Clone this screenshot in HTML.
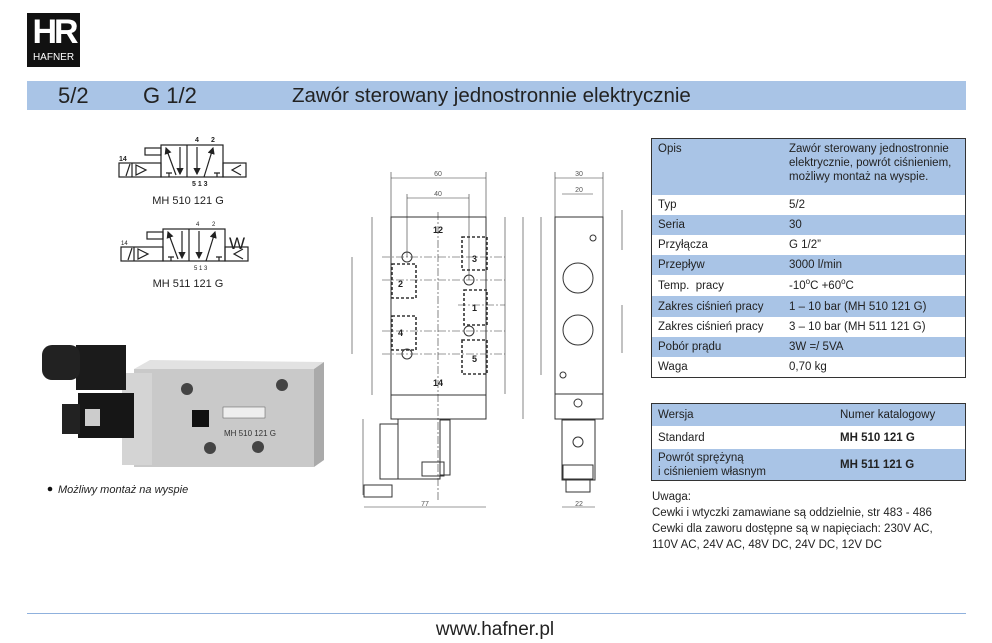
<!DOCTYPE html>
<html><head><meta charset="utf-8"><style>
body{margin:0;width:992px;height:643px;background:#fff;position:relative;overflow:hidden;font-family:"Liberation Sans","DejaVu Sans",sans-serif;color:#222}
.a{position:absolute}
table{border-collapse:collapse;font-size:11.5px;color:#222}
td{padding:0 0 0 6px;vertical-align:middle;line-height:14px}
.b{background:#a9c4e6}
sup{font-size:8px;line-height:0}
</style></head><body>
<div class="a" style="left:27px;top:13px;width:53px;height:54px;background:#111"></div>
<div class="a" style="left:29px;top:12px;width:50px;text-align:center;color:#fff;font-size:34px;font-weight:bold;letter-spacing:-3px;line-height:40px">HR</div>
<div class="a" style="left:27px;top:51px;width:53px;text-align:center;color:#fff;font-size:10px;line-height:14px">HAFNER</div>

<div class="a" style="left:27px;top:81px;width:939px;height:29px;background:#a9c4e6"></div>
<div class="a" style="left:58px;top:82px;font-size:22px;line-height:28px">5/2</div>
<div class="a" style="left:143px;top:82px;font-size:22px;line-height:28px">G 1/2</div>
<div class="a" style="left:292px;top:83px;font-size:20.5px;line-height:26px">Zawór sterowany jednostronnie elektrycznie</div>

<svg class="a" style="left:0;top:0" width="992" height="643">
<defs><marker id="ar" markerWidth="6" markerHeight="6" refX="5" refY="3" orient="auto"><path d="M0,0L6,3L0,6z" fill="#222"/></marker></defs>
<g id="sym" stroke="#222" fill="none" stroke-width="1.2">
<rect x="161" y="145" width="62" height="32"/><line x1="187" y1="145" x2="187" y2="177"/>
<rect x="119" y="163" width="42" height="14"/><line x1="132" y1="163" x2="132" y2="177"/><line x1="126" y1="176" x2="130" y2="164"/><path d="M136,165L146,170L136,175z"/>
<rect x="223" y="163" width="23" height="14"/><path d="M241,165L232,170L241,175"/>
<rect x="145" y="148" width="16" height="7"/>
<line x1="176" y1="175" x2="166" y2="148" marker-end="url(#ar)"/><line x1="180" y1="147" x2="180" y2="174" marker-end="url(#ar)"/>
<line x1="197" y1="147" x2="197" y2="174" marker-end="url(#ar)"/><line x1="204" y1="177" x2="213" y2="148" marker-end="url(#ar)"/>
<path d="M166,173h6M169,173v4M214,173h6M217,173v4"/>
</g>
<g font-size="7" font-weight="bold" fill="#222"><text x="195" y="142">4</text><text x="211" y="142">2</text><text x="119" y="161">14</text><text x="192" y="186">5 1 3</text></g>
<use href="#sym" transform="translate(2,84)"/>
<text x="229" y="249" font-size="17" fill="#222">W</text>
<g font-size="6" fill="#222"><text x="196" y="226">4</text><text x="212" y="226">2</text><text x="121" y="245">14</text><text x="194" y="270">5 1 3</text></g>
<text x="188" y="204" font-size="11" text-anchor="middle" fill="#222">MH 510 121 G</text>
<text x="188" y="287" font-size="11" text-anchor="middle" fill="#222">MH 511 121 G</text>

<!-- photo -->
<g>
<rect x="134" y="369" width="180" height="98" fill="#c9c9c9"/>
<path d="M134,369L150,360L324,362L314,369z" fill="#e2e2e2"/>
<path d="M314,369L324,362L324,460L314,467z" fill="#aaa"/>
<rect x="122" y="373" width="30" height="92" fill="#d4d4d4"/>
<rect x="76" y="345" width="50" height="45" fill="#1b1b1b"/>
<rect x="78" y="393" width="56" height="45" fill="#161616"/>
<rect x="42" y="345" width="38" height="35" rx="10" fill="#222"/>
<rect x="62" y="404" width="18" height="30" fill="#222"/>
<rect x="85" y="409" width="15" height="17" fill="#ccc"/>
<circle cx="187" cy="389" r="6" fill="#444"/><circle cx="282" cy="385" r="6" fill="#444"/>
<circle cx="210" cy="448" r="6" fill="#444"/><circle cx="258" cy="447" r="6" fill="#444"/>
<rect x="192" y="410" width="17" height="17" fill="#111"/>
<rect x="223" y="407" width="42" height="11" fill="#eee" stroke="#555" stroke-width=".5"/>
<text x="224" y="436" font-size="8" fill="#333">MH 510 121 G</text>
</g>
<circle cx="50" cy="489" r="2.3" fill="#111"/>
<text x="58" y="493" font-size="11" font-style="italic" fill="#222">Możliwy montaż na wyspie</text>

<!-- front view -->
<g stroke="#333" fill="none" stroke-width="1">
<rect x="391" y="217" width="95" height="202"/><line x1="391" y1="395" x2="486" y2="395"/>
<g stroke-dasharray="3,2" stroke-width="1.6"><rect x="462" y="237" width="25" height="33"/><rect x="392" y="264" width="24" height="34"/><rect x="464" y="290" width="23" height="35"/><rect x="392" y="316" width="24" height="34"/><rect x="462" y="340" width="25" height="34"/></g>
<circle cx="407" cy="257" r="5"/><circle cx="469" cy="280" r="5"/><circle cx="469" cy="331" r="5"/><circle cx="407" cy="354" r="5"/>
<g stroke-dasharray="8,2,2,2" stroke-width=".6"><line x1="438" y1="212" x2="438" y2="500"/><line x1="382" y1="257" x2="505" y2="257"/><line x1="382" y1="280" x2="505" y2="280"/><line x1="458" y1="305" x2="505" y2="305"/><line x1="382" y1="331" x2="505" y2="331"/><line x1="382" y1="354" x2="505" y2="354"/></g>
<g stroke-width=".6"><line x1="391" y1="178" x2="486" y2="178"/><line x1="407" y1="198" x2="469" y2="198"/><line x1="372" y1="217" x2="372" y2="395"/><line x1="352" y1="257" x2="352" y2="354"/><line x1="505" y1="217" x2="505" y2="394"/><line x1="523" y1="217" x2="523" y2="419"/><line x1="363" y1="419" x2="363" y2="495"/><line x1="364" y1="507" x2="486" y2="507"/><line x1="391" y1="172" x2="391" y2="217"/><line x1="486" y1="172" x2="486" y2="217"/><line x1="407" y1="194" x2="407" y2="257"/><line x1="469" y1="194" x2="469" y2="280"/></g>
<path d="M398,419h42v60h-42z M380,424h18v55h-18z M440,420h10v55h-10z"/><rect x="422" y="462" width="22" height="14"/><rect x="364" y="485" width="28" height="12"/>
</g>
<g font-size="7" fill="#555" text-anchor="middle"><text x="438" y="176">60</text><text x="438" y="196">40</text><text x="425" y="506">77</text></g>
<g font-size="9" font-weight="bold" fill="#222"><text x="472" y="262">3</text><text x="398" y="287">2</text><text x="472" y="311">1</text><text x="398" y="336">4</text><text x="472" y="362">5</text><text x="433" y="233">12</text><text x="433" y="386">14</text></g>

<!-- side view -->
<g stroke="#333" fill="none" stroke-width="1">
<rect x="555" y="217" width="48" height="202"/><line x1="555" y1="394" x2="603" y2="394"/>
<circle cx="578" cy="278" r="15"/><circle cx="578" cy="330" r="15"/><circle cx="593" cy="238" r="3"/><circle cx="563" cy="375" r="3"/>
<circle cx="578" cy="403" r="4"/><rect x="562" y="420" width="33" height="60"/><circle cx="578" cy="442" r="5"/><rect x="563" y="465" width="30" height="14"/><rect x="566" y="480" width="24" height="12"/>
<g stroke-width=".6"><line x1="555" y1="178" x2="603" y2="178"/><line x1="562" y1="194" x2="593" y2="194"/><line x1="541" y1="217" x2="541" y2="375"/><line x1="622" y1="210" x2="622" y2="250"/><line x1="622" y1="305" x2="622" y2="353"/><line x1="562" y1="507" x2="595" y2="507"/><line x1="555" y1="172" x2="555" y2="217"/><line x1="603" y1="172" x2="603" y2="217"/></g>
</g>
<g font-size="7" fill="#555" text-anchor="middle"><text x="579" y="176">30</text><text x="579" y="192">20</text><text x="579" y="506">22</text></g>
</svg>

<div class="a" style="left:651px;top:138px;width:315px;border:1px solid #333;box-sizing:border-box">
<table style="width:100%">
<tr class="b" style="height:56px"><td style="width:125px;vertical-align:top;padding-top:3px">Opis</td><td style="vertical-align:top;padding-top:3px">Zawór sterowany jednostronnie elektrycznie, powrót ciśnieniem, możliwy montaż na wyspie.</td></tr>
<tr style="height:20px"><td>Typ</td><td>5/2</td></tr>
<tr class="b" style="height:20px"><td>Seria</td><td>30</td></tr>
<tr style="height:20px"><td>Przyłącza</td><td>G 1/2”</td></tr>
<tr class="b" style="height:20px"><td>Przepływ</td><td>3000 l/min</td></tr>
<tr style="height:21px"><td>Temp.&nbsp; pracy</td><td>-10<sup>o</sup>C +60<sup>o</sup>C</td></tr>
<tr class="b" style="height:21px"><td>Zakres ciśnień pracy</td><td>1 – 10 bar (MH 510 121 G)</td></tr>
<tr style="height:20px"><td>Zakres ciśnień pracy</td><td>3 – 10 bar (MH 511 121 G)</td></tr>
<tr class="b" style="height:20px"><td>Pobór prądu</td><td>3W =/ 5VA</td></tr>
<tr style="height:20px"><td>Waga</td><td>0,70 kg</td></tr>
</table></div>

<div class="a" style="left:651px;top:403px;width:315px;border:1px solid #333;box-sizing:border-box">
<table style="width:100%">
<tr class="b" style="height:22px"><td style="width:176px">Wersja</td><td>Numer katalogowy</td></tr>
<tr style="height:23px"><td>Standard</td><td style="font-weight:bold">MH 510 121 G</td></tr>
<tr class="b" style="height:31px"><td>Powrót sprężyną<br>i ciśnieniem własnym</td><td style="font-weight:bold">MH 511 121 G</td></tr>
</table></div>

<div class="a" style="left:652px;top:489px;font-size:11.5px;line-height:16px;color:#222">Uwaga:<br>Cewki i wtyczki zamawiane są oddzielnie, str 483 - 486<br>Cewki dla zaworu dostępne są w napięciach: 230V AC,<br>110V AC, 24V AC, 48V DC, 24V DC, 12V DC</div>

<div class="a" style="left:27px;top:613px;width:939px;height:1px;background:#8fb1dd"></div>
<div class="a" style="left:395px;top:618px;width:200px;text-align:center;font-size:19px;line-height:24px;color:#222">www.hafner.pl</div>
</body></html>
